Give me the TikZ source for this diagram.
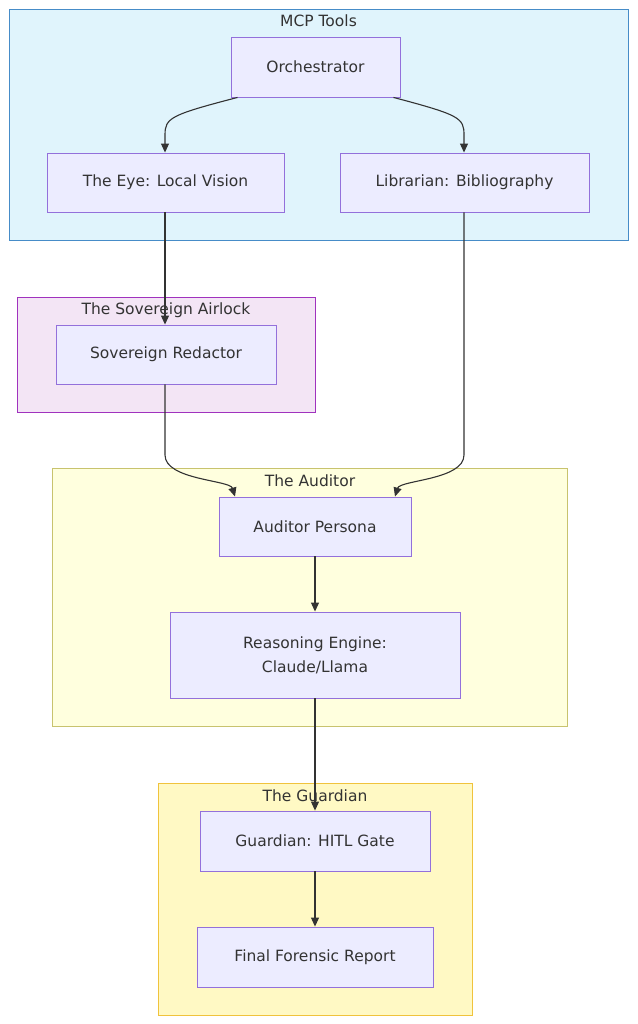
\documentclass[tikz,border=0pt]{standalone}
\usepackage{fontspec}
\setmainfont{DejaVu Sans}
\usetikzlibrary{arrows.meta}
\definecolor{nodefill}{HTML}{ECECFF}
\definecolor{nodedraw}{HTML}{9370DB}
\begin{document}
\begin{tikzpicture}[x=1pt,y=-1pt,
  nd/.style={draw=nodedraw,fill=nodefill,line width=0.9pt,font=\fontsize{15.5}{24}\selectfont,align=center,text=black!80},
  cl/.style={line width=0.9pt},
  ttl/.style={font=\fontsize{15.5}{18}\selectfont,text=black!80},
  ed/.style={draw=black!80,line width=1.1pt,-{Triangle[length=9pt,width=8pt]}}]
\useasboundingbox (0,0) rectangle (637,1024);
\fill[white] (0,0) rectangle (637,1024);
% clusters
\draw[cl,fill={rgb,255:red,224;green,244;blue,252},draw={rgb,255:red,70;green,140;blue,200}] (9,9) rectangle (628,240);
\node[ttl] (t1) at (318.5,21) {MCP Tools};
\draw[cl,fill={rgb,255:red,243;green,229;blue,245},draw={rgb,255:red,160;green,50;blue,190}] (17,297) rectangle (315,412);
\node[ttl] (t2) at (166,310) {The Sovereign Airlock};
\draw[cl,fill={rgb,255:red,255;green,255;blue,222},draw={rgb,255:red,200;green,195;blue,110}] (52,468) rectangle (567,726);
\node[ttl] (t3) at (310,481) {The Auditor};
\draw[cl,fill={rgb,255:red,255;green,249;blue,196},draw={rgb,255:red,240;green,195;blue,60}] (158,783) rectangle (472,1015);
\node[ttl] (t4) at (315,796) {The Guardian};
% nodes
\node[nd,minimum width=169pt,minimum height=60pt] (orch) at (315.5,67) {Orchestrator};
\node[nd,minimum width=237pt,minimum height=59pt] (eye) at (165.5,182.5) {The Eye: Local Vision};
\node[nd,minimum width=249pt,minimum height=59pt] (lib) at (464.5,182.5) {Librarian: Bibliography};
\node[nd,minimum width=220pt,minimum height=59pt] (red) at (166,354.5) {Sovereign Redactor};
\node[nd,minimum width=192pt,minimum height=59pt] (aud) at (315,526.5) {Auditor Persona};
\node[nd,minimum width=290pt,minimum height=86pt] (rea) at (315,655) {Reasoning Engine:\\Claude/Llama};
\node[nd,minimum width=230pt,minimum height=60pt] (hitl) at (315,841) {Guardian: HITL Gate};
\node[nd,minimum width=236pt,minimum height=60pt] (fin) at (315,957) {Final Forensic Report};
% edges
\draw[ed] ([xshift=-78pt]orch.south) .. controls (170,115) and (165,118) .. (165,135) -- (eye.north -| 165,0);
\draw[ed] ([xshift=78pt]orch.south) .. controls (460,115) and (464,118) .. (464,135) -- (lib.north -| 464,0);
\draw[ed] (eye.south -| 165,0) -- (red.north -| 165,0);
\draw[ed] (red.south -| 165,0) -- (165,455) .. controls (165,480) and (230,480) .. ([xshift=-80pt]aud.north);
\draw[ed] (lib.south -| 464,0) -- (464,455) .. controls (464,480) and (400,480) .. ([xshift=80pt]aud.north);
\draw[ed] (aud) -- (rea);
\draw[ed] (rea) -- (hitl);
\draw[ed] (hitl) -- (fin);
\end{tikzpicture}
\end{document}
